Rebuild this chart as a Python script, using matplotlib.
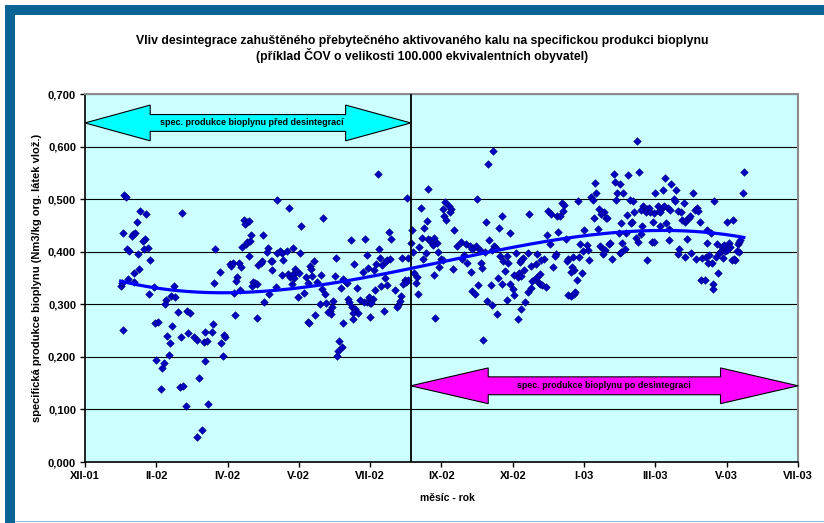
import numpy as np
import matplotlib
matplotlib.use('Agg')
import matplotlib.pyplot as plt
from matplotlib.patches import Polygon, Rectangle

plt.rcParams['font.family'] = ['Liberation Sans', 'DejaVu Sans']

FRAME_BLUE = '#0a6496'
PLOT_BG = '#ccffff'
POINT_BLUE = '#0000c0'
TREND_BLUE = '#0000ff'

# days since the first axis tick (XII-01), one tick every 58 days
X_TICKS = [0, 58, 116, 174, 232, 290, 348, 406, 464, 522, 580]
X_TICK_LABELS = ['XII-01', 'II-02', 'IV-02', 'V-02', 'VII-02', 'IX-02',
                 'XI-02', 'I-03', 'III-03', 'V-03', 'VII-03']
Y_TICKS = [0.0, 0.1, 0.2, 0.3, 0.4, 0.5, 0.6, 0.7]
Y_TICK_LABELS = ['0,000', '0,100', '0,200', '0,300', '0,400', '0,500',
                 '0,600', '0,700']

DESINT_DAY = 265  # start of sludge desintegration

# measured values: day / specific biogas production (Nm3/kg org. latek vloz.)
DAYS = [
    # XII-01 .. III-02
    32, 33, 45, 50, 79, 42, 31, 39, 41, 38, 49, 47, 51, 48, 34, 36, 43, 53,
    44, 40, 35, 40, 29, 30, 56, 72, 52, 70, 73, 66, 65, 76, 83, 85, 57, 59,
    71, 31, 84, 67, 78, 89, 91, 69, 68, 58, 64, 63, 93, 62, 77, 80, 82, 91,
    # III-02 .. V-02
    156, 129, 132, 133, 130, 135, 145, 128, 131, 132, 134, 106, 149, 148, 156,
    159, 160, 161, 133, 118, 119, 120, 125, 127, 141, 144, 143, 151, 152, 152,
    110, 124, 123, 160, 105, 137, 138, 140, 136, 126, 121, 155, 150, 146, 122,
    140, 104, 98, 103, 97, 99, 113, 114, 111, 112, 98, 100, 95,
    # V-02 .. VII-02
    166, 194, 176, 216, 228, 164, 169, 175, 204, 229, 186, 183, 184, 219, 171,
    172, 165, 167, 169, 170, 174, 180, 185, 192, 203, 226, 230, 189, 181, 210,
    213, 212, 168, 193, 208, 221, 178, 195, 173, 214, 215, 202, 191, 196, 224,
    227, 229, 231, 217, 220, 222, 218, 201, 199, 200, 198, 187, 218, 232, 181,
    182, 210, 207, 209, 206, 205,
    # VII-02 .. IX-02
    238, 279, 262, 273, 293, 296, 298, 292, 291, 294, 297, 300, 278, 276, 266,
    247, 249, 274, 279, 281, 282, 283, 286, 284, 265, 272, 239, 267, 277, 287,
    258, 263, 240, 246, 248, 245, 275, 290, 291, 237, 242, 235, 288, 299, 268,
    270, 269, 284, 244, 260, 263, 259, 261, 241, 246, 236, 252, 271, 234, 232,
    233, 257, 256, 255, 254, 243, 285,
    # IX-02 .. XII-02
    332, 328, 319, 361, 339, 326, 337, 346, 329, 306, 303, 310, 313, 316, 318,
    315, 333, 334, 331, 325, 321, 308, 338, 343, 351, 360, 368, 307, 356, 340,
    344, 354, 355, 311, 322, 323, 363, 367, 357, 342, 314, 349, 352, 353, 355,
    336, 364, 366, 368, 369, 339, 346, 348, 320, 330, 315, 317, 363, 360, 349,
    327, 331, 343, 358, 355, 335, 352, 324,
    # XII-02 .. II-03
    430, 431, 415, 435, 416, 412, 413, 433, 432, 438, 401, 388, 390, 377, 379,
    389, 384, 386, 418, 420, 422, 424, 425, 414, 436, 417, 406, 385, 434, 376,
    378, 391, 427, 426, 437, 403, 408, 419, 421, 423, 405, 409, 383, 382, 397,
    393, 402, 421, 435, 439, 429, 410, 373, 371, 392, 381, 396, 398, 395, 404,
    370, 400, 370, 372, 375, 393, 395, 398, 399,
    # II-03 .. IV-03
    449, 442, 451, 472, 477, 481, 464, 470, 495, 443, 446, 479, 480, 487, 498,
    496, 499, 454, 455, 457, 459, 452, 456, 460, 463, 466, 469, 471, 474, 476,
    467, 468, 482, 485, 447, 441, 445, 444, 462, 473, 486, 488, 489, 491, 492,
    500, 453, 468, 440, 475, 452, 448, 450, 461, 463, 475, 490, 506, 436, 483,
    482, 493, 488, 497, 502, 505, 507, 457, 501, 504,
    # IV-03 .. V-03
    536, 535, 512, 522, 527, 509, 506, 514, 518, 520, 524, 525, 523, 531, 532,
    533, 532, 530, 517, 516, 521, 522, 513, 519, 526, 529, 528, 508, 510, 515,
    511, 511,
]
SPB = [
    0.507, 0.505, 0.477, 0.471, 0.473, 0.456, 0.436, 0.433, 0.436, 0.430,
    0.425, 0.421, 0.408, 0.405, 0.406, 0.402, 0.395, 0.384, 0.368, 0.360,
    0.348, 0.342, 0.335, 0.341, 0.332, 0.335, 0.319, 0.316, 0.314, 0.308,
    0.300, 0.285, 0.288, 0.284, 0.265, 0.267, 0.259, 0.251, 0.245, 0.240,
    0.238, 0.238, 0.232, 0.226, 0.203, 0.194, 0.189, 0.179, 0.160, 0.138,
    0.143, 0.145, 0.106, 0.048,
    0.499, 0.461, 0.457, 0.458, 0.452, 0.432, 0.432, 0.409, 0.414, 0.418,
    0.421, 0.405, 0.407, 0.400, 0.398, 0.402, 0.398, 0.384, 0.392, 0.376,
    0.373, 0.378, 0.379, 0.371, 0.375, 0.383, 0.378, 0.383, 0.383, 0.366,
    0.361, 0.352, 0.344, 0.355, 0.341, 0.343, 0.340, 0.338, 0.335, 0.328,
    0.321, 0.333, 0.319, 0.305, 0.280, 0.274, 0.263, 0.248, 0.247, 0.228,
    0.231, 0.242, 0.238, 0.226, 0.202, 0.193, 0.110, 0.061,
    0.484, 0.465, 0.449, 0.422, 0.424, 0.402, 0.408, 0.397, 0.388, 0.393,
    0.382, 0.373, 0.368, 0.376, 0.368, 0.362, 0.357, 0.352, 0.357, 0.351,
    0.359, 0.352, 0.354, 0.356, 0.354, 0.361, 0.370, 0.343, 0.341, 0.348,
    0.340, 0.343, 0.338, 0.330, 0.331, 0.331, 0.321, 0.319, 0.313, 0.311,
    0.305, 0.307, 0.300, 0.302, 0.308, 0.305, 0.305, 0.314, 0.295, 0.291,
    0.284, 0.284, 0.295, 0.287, 0.281, 0.286, 0.279, 0.273, 0.275, 0.267,
    0.265, 0.264, 0.231, 0.219, 0.211, 0.202,
    0.548, 0.520, 0.503, 0.483, 0.495, 0.487, 0.482, 0.468, 0.482, 0.461,
    0.476, 0.442, 0.458, 0.446, 0.442, 0.437, 0.425, 0.426, 0.425, 0.422,
    0.417, 0.413, 0.416, 0.426, 0.417, 0.409, 0.405, 0.400, 0.398, 0.399,
    0.389, 0.389, 0.388, 0.384, 0.387, 0.383, 0.386, 0.387, 0.385, 0.376,
    0.375, 0.365, 0.371, 0.368, 0.360, 0.352, 0.341, 0.355, 0.351, 0.347,
    0.346, 0.338, 0.343, 0.335, 0.337, 0.328, 0.327, 0.319, 0.311, 0.303,
    0.302, 0.316, 0.307, 0.298, 0.295, 0.287, 0.274,
    0.592, 0.567, 0.501, 0.471, 0.468, 0.457, 0.446, 0.436, 0.423, 0.419,
    0.411, 0.414, 0.411, 0.408, 0.411, 0.406, 0.411, 0.408, 0.404, 0.400,
    0.403, 0.394, 0.392, 0.392, 0.398, 0.398, 0.395, 0.387, 0.389, 0.382,
    0.378, 0.380, 0.384, 0.379, 0.378, 0.370, 0.373, 0.376, 0.366, 0.364,
    0.362, 0.356, 0.352, 0.359, 0.354, 0.351, 0.345, 0.349, 0.352, 0.341,
    0.338, 0.338, 0.330, 0.337, 0.336, 0.325, 0.319, 0.331, 0.323, 0.317,
    0.307, 0.298, 0.309, 0.304, 0.291, 0.281, 0.273, 0.233,
    0.547, 0.533, 0.531, 0.528, 0.512, 0.504, 0.498, 0.511, 0.499, 0.512,
    0.496, 0.492, 0.489, 0.477, 0.471, 0.477, 0.468, 0.468, 0.481, 0.471,
    0.476, 0.464, 0.465, 0.465, 0.455, 0.443, 0.442, 0.438, 0.435, 0.432,
    0.414, 0.425, 0.417, 0.414, 0.416, 0.414, 0.413, 0.411, 0.406, 0.403,
    0.401, 0.403, 0.395, 0.392, 0.390, 0.387, 0.390, 0.395, 0.397, 0.406,
    0.386, 0.384, 0.387, 0.384, 0.383, 0.371, 0.371, 0.366, 0.362, 0.359,
    0.357, 0.346, 0.338, 0.337, 0.332, 0.317, 0.316, 0.319, 0.324,
    0.610, 0.546, 0.551, 0.541, 0.528, 0.518, 0.511, 0.517, 0.511, 0.498,
    0.496, 0.501, 0.497, 0.492, 0.484, 0.479, 0.478, 0.487, 0.484, 0.482,
    0.484, 0.479, 0.476, 0.476, 0.474, 0.487, 0.484, 0.487, 0.484, 0.479,
    0.478, 0.476, 0.478, 0.476, 0.475, 0.470, 0.457, 0.454, 0.457, 0.455,
    0.461, 0.457, 0.460, 0.465, 0.468, 0.457, 0.449, 0.449, 0.435, 0.444,
    0.433, 0.427, 0.419, 0.418, 0.418, 0.423, 0.425, 0.417, 0.399, 0.406,
    0.395, 0.398, 0.390, 0.387, 0.389, 0.390, 0.378, 0.384, 0.347, 0.346,
    0.552, 0.511, 0.496, 0.457, 0.460, 0.436, 0.441, 0.414, 0.409, 0.413,
    0.416, 0.409, 0.406, 0.414, 0.419, 0.423, 0.400, 0.402, 0.402, 0.398,
    0.402, 0.403, 0.390, 0.388, 0.385, 0.384, 0.387, 0.393, 0.378, 0.359,
    0.338, 0.330,
]


def double_arrow(ax, x0, x1, yc, head_len, head_h, shaft_h, color):
    """Excel-style block arrow pointing both ways."""
    pts = [(x0, yc),
           (x0 + head_len, yc + head_h), (x0 + head_len, yc + shaft_h),
           (x1 - head_len, yc + shaft_h), (x1 - head_len, yc + head_h),
           (x1, yc),
           (x1 - head_len, yc - head_h), (x1 - head_len, yc - shaft_h),
           (x0 + head_len, yc - shaft_h), (x0 + head_len, yc - head_h)]
    ax.add_patch(Polygon(pts, closed=True, facecolor=color, edgecolor='black',
                         linewidth=0.8, zorder=4, clip_on=False))


fig = plt.figure(figsize=(8.24, 5.23), dpi=100)
fig.patch.set_facecolor('white')

# blue frame of the original sheet
fig.add_artist(Rectangle((0.006, 0.971), 0.994, 0.019, transform=fig.transFigure,
                         facecolor=FRAME_BLUE, edgecolor='none'))
fig.add_artist(Rectangle((0.006, 0.0), 0.012, 0.99, transform=fig.transFigure,
                         facecolor=FRAME_BLUE, edgecolor='none'))
fig.add_artist(Rectangle((0.018, 0.001), 0.982, 0.003, transform=fig.transFigure,
                         facecolor='#8cbcdc', edgecolor='none'))

ax = fig.add_axes([0.1032, 0.1166, 0.8652, 0.7036])
ax.set_facecolor(PLOT_BG)

days = np.array(DAYS, dtype=float)
spb = np.array(SPB)

ax.scatter(days, spb, marker='D', s=15, color=POINT_BLUE,
           edgecolors='#000080', linewidths=0.4, zorder=3)

# polynomial trend line over the measured range
coef = np.polyfit(days, spb, 3)
xt = np.linspace(days.min(), days.max(), 300)
ax.plot(xt, np.polyval(coef, xt), color=TREND_BLUE, linewidth=2.3, zorder=5)

ax.axvline(DESINT_DAY, color='black', linewidth=1.3, zorder=4)

double_arrow(ax, X_TICKS[0], DESINT_DAY, 0.645, 53, 0.034, 0.016, '#00ffff')
ax.text((X_TICKS[0] + DESINT_DAY) / 2 + 3, 0.645,
        'spec. produkce bioplynu před desintegrací', ha='center', va='center',
        fontsize=6.5, fontweight='bold', zorder=6)
double_arrow(ax, DESINT_DAY, X_TICKS[-1], 0.145, 63, 0.034, 0.017, '#ff00ff')
ax.text((DESINT_DAY + X_TICKS[-1]) / 2, 0.145,
        'spec. produkce bioplynu po desintegraci', ha='center', va='center',
        fontsize=6.4, fontweight='bold', zorder=6)

ax.set_xlim(X_TICKS[0], X_TICKS[-1])
ax.set_ylim(Y_TICKS[0], Y_TICKS[-1])
ax.set_xticks(X_TICKS)
ax.set_xticklabels(X_TICK_LABELS)
ax.set_yticks(Y_TICKS)
ax.set_yticklabels(Y_TICK_LABELS)
ax.tick_params(axis='both', direction='out', length=3.5, width=1,
               labelsize=8, pad=3)
for lbl in ax.get_xticklabels() + ax.get_yticklabels():
    lbl.set_fontweight('bold')

ax.yaxis.grid(True, color='black', linewidth=0.8)
ax.set_axisbelow(True)

for side in ['left', 'bottom']:
    ax.spines[side].set_color('black')
    ax.spines[side].set_linewidth(1.2)
for side in ['top', 'right']:
    ax.spines[side].set_color('#8c8c8c')
    ax.spines[side].set_linewidth(1.5)

fig.text(0.512, 0.922,
         'Vliv desintegrace zahuštěného přebytečného aktivovaného kalu na specifickou produkci bioplynu',
         ha='center', va='center', fontsize=8.8, fontweight='bold')
fig.text(0.512, 0.893, '(příklad ČOV o velikosti 100.000 ekvivalentních obyvatel)',
         ha='center', va='center', fontsize=8.8, fontweight='bold')
fig.text(0.045, 0.4685, 'specifická produkce bioplynu (Nm3/kg org. látek vlož.)',
         ha='center', va='center', rotation=90, fontsize=8, fontweight='bold')
fig.text(0.5425, 0.048, 'měsíc - rok', ha='center', va='center',
         fontsize=7.5, fontweight='bold')

fig.savefig('out.png', dpi=100, facecolor='white')
plt.close(fig)
